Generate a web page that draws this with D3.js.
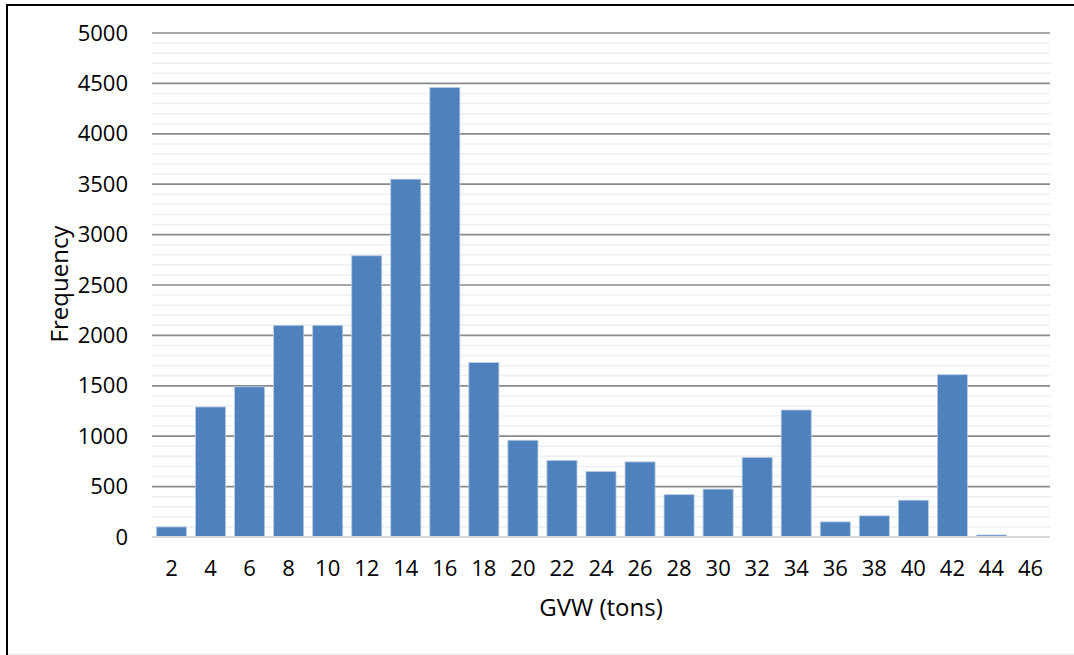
<!DOCTYPE html>
<html>
<head>
<meta charset="utf-8">
<script src="https://cdn.jsdelivr.net/npm/d3@7"></script>
<style>
  body { margin: 0; background: #fff; }
  text { font-family: "Open Sans", "Noto Sans", sans-serif; fill: #000; }
</style>
</head>
<body>
<div id="chart"></div>
<script>
// GVW histogram data
const categories = ["2","4","6","8","10","12","14","16","18","20","22","24","26","28","30","32","34","36","38","40","42","44","46"];
const frequency = [100,1290,1490,2100,2100,2790,3550,4460,1730,960,760,650,745,420,475,790,1260,150,210,365,1610,20,0];
const yTicks = [0,500,1000,1500,2000,2500,3000,3500,4000,4500,5000];

const W = 1074, H = 655;
const fontSize = "22px";
const titleSize = "24px";
const svg = d3.select("#chart").append("svg")
    .attr("width", W)
    .attr("height", H);

// frame lines
svg.append("line").attr("x1", 7).attr("x2", 7).attr("y1", 4).attr("y2", H)
    .attr("stroke", "#000").attr("stroke-width", 2);
svg.append("line").attr("x1", 6).attr("x2", W).attr("y1", 5).attr("y2", 5)
    .attr("stroke", "#000").attr("stroke-width", 2);
svg.append("line").attr("x1", 8).attr("x2", W).attr("y1", 654).attr("y2", 654)
    .attr("stroke", "#e3e3e3").attr("stroke-width", 1);

const plot = {left: 152, right: 1050, top: 33, bottom: 537};

const x = d3.scaleBand()
    .domain(categories)
    .range([plot.left, plot.right])
    .paddingInner(0.23)
    .paddingOuter(0.115);

const y = d3.scaleLinear()
    .domain([0, 5000])
    .range([plot.bottom, plot.top]);

// minor gridlines
const minor = d3.range(100, 5000, 100).filter(v => v % 500 !== 0);
svg.append("g").selectAll("line")
    .data(minor)
    .join("line")
    .attr("x1", plot.left).attr("x2", plot.right)
    .attr("y1", d => y(d)).attr("y2", d => y(d))
    .attr("stroke", "#efefef")
    .attr("stroke-width", 1.5);

// major gridlines
svg.append("g").selectAll("line")
    .data(yTicks.filter(d => d > 0))
    .join("line")
    .attr("x1", plot.left).attr("x2", plot.right)
    .attr("y1", d => y(d)).attr("y2", d => y(d))
    .attr("stroke", "#8a8a8a")
    .attr("stroke-width", 1.7);

// bars
svg.append("g").selectAll("rect")
    .data(frequency)
    .join("rect")
    .attr("x", (d, i) => x(categories[i]))
    .attr("width", x.bandwidth())
    .attr("y", d => y(d))
    .attr("height", d => plot.bottom - y(d))
    .attr("fill", "#4f81bd")
    .attr("stroke", "#b8cce4")
    .attr("stroke-width", d => d > 0 ? 0.8 : 0);

// baseline
svg.append("line")
    .attr("x1", plot.left).attr("x2", plot.right)
    .attr("y1", plot.bottom).attr("y2", plot.bottom)
    .attr("stroke", "#d9d9d9")
    .attr("stroke-width", 2);

// y axis labels
const yAxis = d3.axisLeft(y).tickValues(yTicks).tickFormat(d3.format("d")).tickSize(0).tickPadding(0);
const gy = svg.append("g")
    .attr("transform", `translate(128,0)`)
    .call(yAxis);
gy.select(".domain").remove();
gy.selectAll("text")
    .style("font-size", fontSize)
    .style("font-family", "Open Sans, Noto Sans, sans-serif")
    .attr("fill", "#000");

// x axis labels
const xAxis = d3.axisBottom(x).tickSize(0).tickPadding(0);
const gx = svg.append("g")
    .attr("transform", `translate(0,${plot.bottom + 23})`)
    .call(xAxis);
gx.select(".domain").remove();
gx.selectAll("text")
    .style("font-size", fontSize)
    .style("font-family", "Open Sans, Noto Sans, sans-serif")
    .attr("fill", "#000");

// axis titles
svg.append("text")
    .attr("x", (plot.left + plot.right) / 2)
    .attr("y", 616)
    .attr("text-anchor", "middle")
    .style("font-size", titleSize)
    .text("GVW (tons)");

svg.append("text")
    .attr("transform", "translate(68,284) rotate(-90)")
    .attr("text-anchor", "middle")
    .style("font-size", titleSize)
    .text("Frequency");
</script>
</body>
</html>
